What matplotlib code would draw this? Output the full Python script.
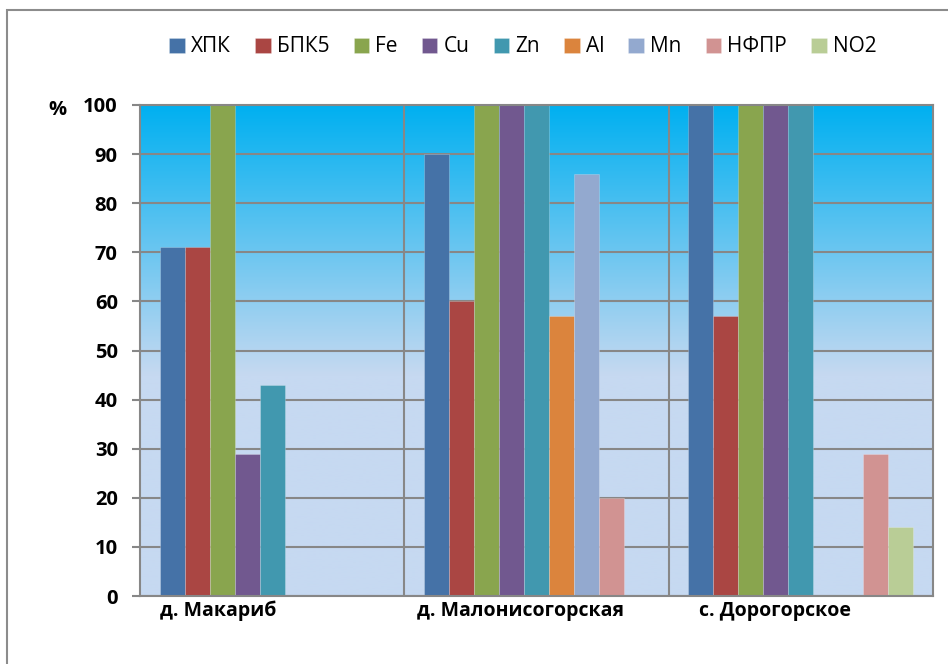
import numpy as np
import matplotlib
matplotlib.use('Agg')
import matplotlib.pyplot as plt
from matplotlib.colors import to_rgb
from matplotlib.patches import Rectangle

plt.rcParams['font.family'] = ['Open Sans', 'DejaVu Sans']

# ---- данные ----
categories = ['д. Макариб', 'д. Малонисогорская', 'с. Дорогорское']
series = ['ХПК', 'БПК5', 'Fe', 'Cu', 'Zn', 'Al', 'Mn', 'НФПР', 'NO2']
khpk = [71, 90, 100]
bpk5 = [71, 60, 57]
fe = [100, 100, 100]
cu = [29, 100, 100]
zn = [43, 100, 100]
al = [0, 57, 0]
mn = [0, 86, 0]
nfpr = [0, 20, 29]
no2 = [0, 0, 14]
values = [khpk, bpk5, fe, cu, zn, al, mn, nfpr, no2]
colors = ['#4572A7', '#AA4643', '#89A54E', '#71588F', '#4198AF',
          '#DB843D', '#93A9CF', '#D19392', '#B9CD96']
yticks = list(range(0, 101, 10))

fig = plt.figure(figsize=(9.48, 6.64), dpi=100)
ax = fig.add_axes([140 / 948, 1 - 596 / 664, 793 / 948, 491 / 664])

# градиентный фон: сверху голубой, ниже ~45% — светлый
top_c = np.array(to_rgb('#00B0F0'))
low_c = np.array(to_rgb('#C6D9F1'))
vv = np.linspace(100, 0, 400)
t = np.clip((vv - 45) / 55, 0, 1)[:, None]
grad = low_c * (1 - t) + top_c * t
ax.imshow(grad[:, None, :], extent=[-0.5, 2.5, 0, 100], aspect='auto', zorder=0)

ax.set_xlim(-0.5, 2.5)
ax.set_ylim(0, 100)

for y in yticks:
    ax.axhline(y, color='#878787', lw=1.5, zorder=1)
for xv in [0.5, 1.5]:
    ax.axvline(xv, color='#878787', lw=1.5, zorder=1)

x = np.arange(len(categories))
width = 0.0945
n = len(series)
handles = []
for i, (name, vals, c) in enumerate(zip(series, values, colors)):
    pos = x - width * n / 2 + width * (i + 0.5)
    b = ax.bar(pos, vals, width, color=c, edgecolor=(1, 1, 1, 0.25), lw=0.6, zorder=2, label=name)
    handles.append(b)

ax.set_yticks(yticks)
ax.set_yticklabels([str(v) for v in yticks], fontsize=14.5, fontweight='bold')
ax.tick_params(axis='y', length=6, width=1.5, color='#878787', pad=10)
ax.set_xticks([])
for s in ax.spines.values():
    s.set_color('#878787')
    s.set_linewidth(1.5)

# подписи категорий
label_x = [-0.205, 0.938, 1.903]
for lx, lab in zip(label_x, categories):
    ax.text(lx, -3.0, lab, ha='center', va='center', fontsize=14, fontweight='bold')

fig.text(57 / 948, 1 - 110 / 664, '%', ha='center', va='center', fontsize=14.5, fontweight='bold')

fig.legend(handles=handles, labels=series, loc='center', bbox_to_anchor=(523 / 948, 1 - 47 / 664),
           ncol=9, frameon=False, fontsize=15, handlelength=0.75, handleheight=0.75,
           handletextpad=0.3, columnspacing=1.15)

# рамка вокруг диаграммы
fig.patches.append(Rectangle((7 / 948, -0.1), 1.2, 1 - 10 / 664 + 0.1, transform=fig.transFigure,
                             fill=False, edgecolor='#8C8C8C', lw=1.5))

fig.savefig('out.png', dpi=100)
